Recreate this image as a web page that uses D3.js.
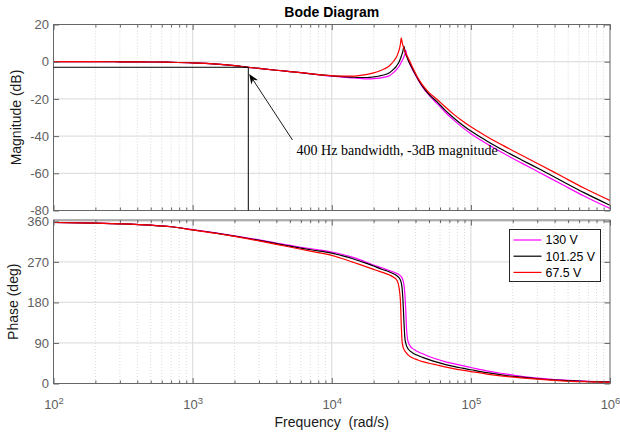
<!DOCTYPE html>
<html><head><meta charset="utf-8">
<script src="https://cdn.jsdelivr.net/npm/d3@7"></script>
<style>
html,body{margin:0;padding:0;background:#fff;}
svg{display:block;font-family:"Liberation Sans",Arial,Helvetica,sans-serif;}
</style></head><body>
<svg id="chart" width="620" height="436"></svg>
<script>
// ---------------- data ----------------
const freq = [100, 200, 300, 500, 700, 1000, 1500, 2000, 2513, 3000, 4000, 5000, 6000, 8000, 10000, 12000, 14000, 16000, 18000, 20000, 22000, 24000, 26000, 28000, 29000, 29700, 30300, 30800, 31200, 31600, 32000, 32500, 33000, 33500, 34000, 34500, 35000, 35700, 36600, 38000, 40000, 42000, 45000, 50000, 57000, 65000, 75000, 87000, 100000, 130000, 170000, 230000, 316000, 450000, 650000, 1000000];

const seriesNames = ["130 V", "101.25 V", "67.5 V"];
const seriesColors = ["#ff00ff", "#000000", "#ff0000"];

const mag130 = [0.0, 0.0, -0.05, -0.15, -0.3, -0.6, -1.3, -2.1, -3.0, -3.6, -4.6, -5.3, -5.9, -7.0, -7.8, -8.3, -8.7, -9.0, -9.2, -9.1, -8.8, -8.3, -7.5, -5.6, -4.5, -3.6, -2.7, -1.9, -1.1, -0.3, 0.5, 1.5, 2.6, 3.9, 6.2, 3.8, 2.2, 0.4, -1.6, -4.2, -7.2, -10.1, -13.7, -18.0, -22.4, -26.9, -31.3, -35.3, -38.7, -44.1, -49.1, -54.4, -59.8, -65.9, -72.2, -78.9];
const mag101 = [0.0, 0.0, -0.05, -0.15, -0.3, -0.6, -1.3, -2.1, -3.0, -3.6, -4.6, -5.3, -5.9, -6.9, -7.6, -8.0, -8.3, -8.5, -8.5, -8.2, -7.7, -7.0, -5.9, -3.9, -2.6, -1.5, -0.4, 0.7, 1.7, 2.9, 4.1, 5.8, 8.4, 6.0, 4.3, 2.9, 1.8, 0.3, -1.4, -3.8, -6.9, -9.8, -13.3, -17.6, -21.5, -25.9, -30.1, -34.0, -37.3, -42.6, -47.5, -52.7, -58.0, -64.1, -70.4, -77.2];
const mag67 = [0.0, 0.0, -0.05, -0.15, -0.3, -0.6, -1.3, -2.1, -3.0, -3.6, -4.6, -5.3, -5.9, -6.9, -7.5, -7.8, -7.8, -7.4, -6.8, -6.0, -5.0, -3.8, -2.2, 0.5, 2.2, 3.8, 5.6, 7.6, 9.8, 12.8, 10.6, 8.6, 7.1, 5.8, 4.7, 3.7, 2.8, 1.5, -0.2, -2.8, -6.2, -9.2, -12.6, -16.6, -20.2, -24.1, -28.2, -31.9, -35.0, -40.2, -45.0, -50.2, -55.5, -61.6, -67.9, -74.6];

const phase130 = [357.5, 356, 354.5, 351.5, 348, 341.5, 334, 328, 323, 319, 312, 306.5, 302.5, 297, 292, 286.5, 280.5, 274.5, 268.5, 263, 258.5, 254.5, 250.5, 247, 245, 243.5, 242, 240.5, 239, 237, 234.5, 229, 220, 200, 165, 120, 100, 90, 83, 78, 73.5, 70, 66, 60, 54, 48.5, 44, 39.5, 35.5, 28, 22, 16, 11.5, 8, 5.2, 3.5];
const phase101 = [357.5, 356, 354.5, 351.5, 348, 341.2, 333.5, 327.2, 322, 317.8, 310.5, 305, 300.5, 294.5, 289.5, 283.5, 277.5, 271.5, 266, 261, 255.5, 251.5, 247.5, 243, 240.5, 238, 235.5, 232.5, 229, 223.5, 213, 185, 140, 103, 90, 83.5, 79.5, 75.5, 72, 68.5, 64.5, 61.5, 58, 53, 47.5, 42.5, 38, 34, 30.5, 24, 18.5, 14, 10, 6.8, 4.5, 3];
const phase67 = [357.5, 356, 354.5, 351.5, 348, 341, 333, 326.5, 321, 316.5, 309, 303, 298, 290.5, 284.5, 277, 270, 264, 258.5, 253.5, 249, 245, 241, 235.5, 231.5, 226.5, 217, 202, 180, 130, 95, 82, 76, 72.5, 69.5, 67, 65, 62.5, 60, 57, 54, 51.5, 48.5, 45, 41, 37, 33, 29.5, 26.5, 21, 16.5, 12.5, 9, 6, 4, 2.5];

const magTicks = [20, 0, -20, -40, -60, -80];
const phaseTicks = [0, 90, 180, 270, 360];
const freqTicks = [1e2, 1e3, 1e4, 1e5, 1e6];
const freqTickExp = ["2", "3", "4", "5", "6"];

const bandwidthFreq = 2513;   // 400 Hz in rad/s
const bandwidthMag = -3;
const arrowFrom = [5220, -42.1];
const arrowTo = [2550, -6.6];
const noteAt = [5590, -50.2];
const noteText = "400 Hz bandwidth, -3dB magnitude";

// ---------------- layout ----------------
const svg = d3.select("#chart");
const L = 53.5, R = 610;
const magT = 24.5, magB = 210.5, phT = 220, phB = 383.5;
const x = d3.scaleLog().domain([1e2, 1e6]).range([L, R]);
const yMag = d3.scaleLinear().domain([-80, 20]).range([magB, magT]);
const yPh = d3.scaleLinear().domain([0, 363]).range([phB, phT]);

const minor = [];
for (let e = 2; e < 6; e++) for (let k = 2; k < 10; k++) minor.push(k * Math.pow(10, e));

const axisColor = "#666";
const tickTextColor = "#5e5e5e";

function panel(y, top, bottom, yTicks, id, magSeries) {
  const g = svg.append("g");
  g.append("rect").attr("x", L).attr("y", top).attr("width", R - L).attr("height", bottom - top).attr("fill", "#fff");
  g.append("g").selectAll("line").data(minor).join("line")
    .attr("x1", d => x(d)).attr("x2", d => x(d)).attr("y1", top).attr("y2", bottom)
    .attr("stroke", "#cfcfcf").attr("stroke-width", 0.8).attr("stroke-dasharray", "1,2");
  g.append("g").selectAll("line").data(freqTicks.slice(1, -1)).join("line")
    .attr("x1", d => x(d)).attr("x2", d => x(d)).attr("y1", top).attr("y2", bottom)
    .attr("stroke", "#e0e0e0").attr("stroke-width", 1.3);
  g.append("g").selectAll("line").data(yTicks.filter(v => y(v) > top + 1 && y(v) < bottom - 1)).join("line")
    .attr("x1", L).attr("x2", R).attr("y1", d => y(d)).attr("y2", d => y(d))
    .attr("stroke", "#e0e0e0").attr("stroke-width", 1.3);

  svg.append("clipPath").attr("id", id).append("rect")
    .attr("x", L).attr("y", top).attr("width", R - L).attr("height", bottom - top);

  const line = d3.line().x(d => x(d[0])).y(d => y(d[1])).curve(d3.curveMonotoneX);
  const cg = g.append("g").attr("clip-path", `url(#${id})`);
  magSeries.forEach((vals, i) => {
    cg.append("path").datum(freq.map((f, j) => [f, vals[j]]))
      .attr("d", line).attr("fill", "none").attr("stroke", seriesColors[i]).attr("stroke-width", 1.2);
  });

  const styleAxis = a => { a.select(".domain").remove(); a.selectAll(".tick line").attr("stroke", axisColor); };
  g.append("g").attr("transform", `translate(0,${bottom})`)
    .call(d3.axisBottom(x).tickValues(minor).tickSizeInner(-3).tickSizeOuter(0).tickFormat("")).call(styleAxis);
  g.append("g").attr("transform", `translate(0,${top})`)
    .call(d3.axisTop(x).tickValues(minor).tickSizeInner(-3).tickSizeOuter(0).tickFormat("")).call(styleAxis);
  g.append("g").attr("transform", `translate(0,${top})`)
    .call(d3.axisTop(x).tickValues(freqTicks).tickSizeInner(-5.5).tickSizeOuter(0).tickFormat("")).call(styleAxis);
  g.append("g").attr("transform", `translate(${R},0)`)
    .call(d3.axisRight(y).tickValues(yTicks).tickSizeInner(-5.5).tickSizeOuter(0).tickFormat("")).call(styleAxis);
  const ly = g.append("g").attr("transform", `translate(${L},0)`)
    .call(d3.axisLeft(y).tickValues(yTicks).tickSizeInner(-5.5).tickSizeOuter(0).tickPadding(4.5).tickFormat(d => String(d)))
    .call(styleAxis);
  ly.attr("font-family", null).attr("font-size", null);
  ly.selectAll(".tick text").attr("fill", tickTextColor).style("font-size", "13px");

  const bx = g.append("g").attr("transform", `translate(0,${bottom})`)
    .call(d3.axisBottom(x).tickValues(freqTicks).tickSizeInner(-5.5).tickSizeOuter(0).tickFormat(""))
    .call(styleAxis);

  g.append("rect").attr("x", L).attr("y", top).attr("width", R - L).attr("height", bottom - top)
    .attr("fill", "none").attr("stroke", axisColor).attr("stroke-width", 1);
  return bx;
}

panel(yMag, magT, magB, magTicks, "clipMag", [mag130, mag101, mag67]);
const bx = panel(yPh, phT, phB, phaseTicks, "clipPh", [phase130, phase101, phase67]);

bx.attr("font-family", null).attr("font-size", null);
bx.selectAll(".tick text").each(function(d, i) {
  const t = d3.select(this);
  t.text(null).attr("y", 25.5).attr("dy", null).attr("fill", tickTextColor).attr("text-anchor", "middle");
  t.append("tspan").style("font-size", "13px").text("10");
  t.append("tspan").style("font-size", "9.5px").attr("dy", -5.5).text(freqTickExp[i]);
});

svg.append("text").attr("x", (L + R) / 2).attr("y", 17).attr("text-anchor", "middle")
  .style("font-size", "14px").style("font-weight", "bold").attr("fill", "#000").text("Bode Diagram");
svg.append("text").attr("transform", `translate(20.5,${(magT + magB) / 2}) rotate(-90)`)
  .attr("text-anchor", "middle").style("font-size", "14px").attr("fill", "#1a1a1a").text("Magnitude (dB)");
svg.append("text").attr("transform", `translate(17.5,${(phT + phB) / 2}) rotate(-90)`)
  .attr("text-anchor", "middle").style("font-size", "14px").attr("fill", "#1a1a1a").text("Phase (deg)");
svg.append("text").attr("x", (L + R) / 2).attr("y", 427).attr("text-anchor", "middle")
  .style("font-size", "14px").style("white-space", "pre").attr("fill", "#1a1a1a").text("Frequency  (rad/s)");

const ann = svg.append("g");
ann.append("line").attr("x1", x(1e2)).attr("x2", x(bandwidthFreq))
  .attr("y1", yMag(bandwidthMag)).attr("y2", yMag(bandwidthMag)).attr("stroke", "#000").attr("stroke-width", 1);
ann.append("line").attr("x1", x(bandwidthFreq)).attr("x2", x(bandwidthFreq))
  .attr("y1", yMag(bandwidthMag)).attr("y2", magB).attr("stroke", "#000").attr("stroke-width", 1);

const ax0 = x(arrowFrom[0]), ay0 = yMag(arrowFrom[1]);
const ax1 = x(arrowTo[0]), ay1 = yMag(arrowTo[1]);
const len = Math.hypot(ax1 - ax0, ay1 - ay0);
const ux = (ax1 - ax0) / len, uy = (ay1 - ay0) / len;
const nx = -uy, ny = ux;
const headL = 10, headW = 4, notch = 7;
ann.append("line").attr("x1", ax0).attr("y1", ay0)
  .attr("x2", ax1 - ux * notch).attr("y2", ay1 - uy * notch).attr("stroke", "#000").attr("stroke-width", 0.9);
ann.append("path").attr("d", d3.line()([
  [ax1, ay1],
  [ax1 - ux * headL + nx * headW, ay1 - uy * headL + ny * headW],
  [ax1 - ux * notch, ay1 - uy * notch],
  [ax1 - ux * headL - nx * headW, ay1 - uy * headL - ny * headW]
]) + "Z").attr("fill", "#000");
ann.append("text").attr("x", x(noteAt[0])).attr("y", yMag(noteAt[1]))
  .style("font-family", "'Liberation Serif','Times New Roman',serif").style("font-size", "14px")
  .attr("fill", "#000").text(noteText);

const lg = svg.append("g").attr("transform", "translate(509.5,229.5)");
lg.append("rect").attr("width", 91).attr("height", 52).attr("fill", "#fff")
  .attr("stroke", "#262626").attr("stroke-width", 1);
seriesNames.forEach((n, i) => {
  const yy = 10.5 + i * 16.2;
  lg.append("line").attr("x1", 4).attr("x2", 32).attr("y1", yy).attr("y2", yy)
    .attr("stroke", seriesColors[i]).attr("stroke-width", 1.2);
  lg.append("text").attr("x", 36).attr("y", yy + 4.4).style("font-size", "12.4px").attr("fill", "#000").text(n);
});
</script>
</body></html>
